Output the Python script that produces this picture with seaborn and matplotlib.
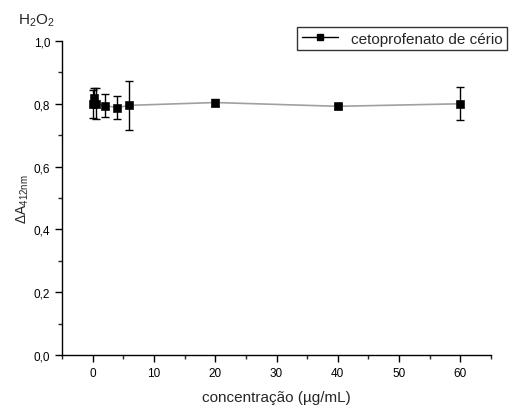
import pandas as pd
import matplotlib
matplotlib.use("Agg")
import matplotlib.pyplot as plt
from matplotlib.lines import Line2D
from matplotlib.ticker import MultipleLocator, FuncFormatter
import seaborn as sns

# Data
conc = [0.1, 0.25, 0.5, 2, 4, 6, 20, 40, 60]
delta_a = [0.800, 0.820, 0.800, 0.794, 0.788, 0.795, 0.804, 0.792, 0.800]
err = [0.045, 0.030, 0.050, 0.037, 0.036, 0.078, 0.010, 0.008, 0.052]
series_label = "cetoprofenato de cério"

df = pd.DataFrame({"conc": conc, "dA": delta_a, "err": err})

sns.set_style("ticks")
plt.rcParams['font.family'] = ['Liberation Sans', 'DejaVu Sans']
plt.rcParams['mathtext.fontset'] = 'custom'
plt.rcParams['mathtext.rm'] = 'Liberation Sans'

fig = plt.figure(figsize=(5.17, 4.10), dpi=100)
ax = fig.add_axes([0.12, 0.1317, 0.8297, 0.7659])

# connecting line (gray) and markers (black)
sns.lineplot(data=df, x="conc", y="dA", ax=ax, color="#a0a0a0", linewidth=1.2, sort=True)
ax.errorbar(df["conc"], df["dA"], yerr=df["err"], fmt="none", ecolor="black",
            elinewidth=1, capsize=3, capthick=1, zorder=3)
sns.scatterplot(data=df, x="conc", y="dA", ax=ax, marker="s", s=30, color="black",
                edgecolor="black", zorder=4)

ax.set_xlim(-5, 65)
ax.set_ylim(0, 1.0)
ax.xaxis.set_major_locator(MultipleLocator(10))
ax.xaxis.set_minor_locator(MultipleLocator(5))
ax.yaxis.set_major_locator(MultipleLocator(0.2))
ax.yaxis.set_minor_locator(MultipleLocator(0.1))
ax.yaxis.set_major_formatter(FuncFormatter(lambda v, p: f"{v:.1f}".replace(".", ",")))
ax.tick_params(which="major", direction="out", length=5, width=1, labelsize=8.5, colors="black")
ax.tick_params(which="minor", direction="out", length=3, width=1)

sns.despine(ax=ax)
for s in ["left", "bottom"]:
    ax.spines[s].set_color("black")
    ax.spines[s].set_linewidth(1)

ax.set_xlabel("concentração (µg/mL)", fontsize=11, labelpad=8)
ax.set_ylabel(r"$\Delta\mathrm{A}_{\mathrm{412nm}}$", fontsize=10, labelpad=2)

fig.text(0.035, 0.94, r"H$_2$O$_2$", fontsize=11)

handle = Line2D([], [], color="black", marker="s", markersize=5, linewidth=1)
leg = fig.legend([handle], [series_label], loc="upper right",
                 bbox_to_anchor=(0.995, 0.95), fontsize=11, frameon=True,
                 fancybox=False, handlelength=2.4, borderpad=0.3)
leg.get_frame().set_edgecolor("black")
leg.get_frame().set_linewidth(1)

plt.savefig("out.png", dpi=100)
